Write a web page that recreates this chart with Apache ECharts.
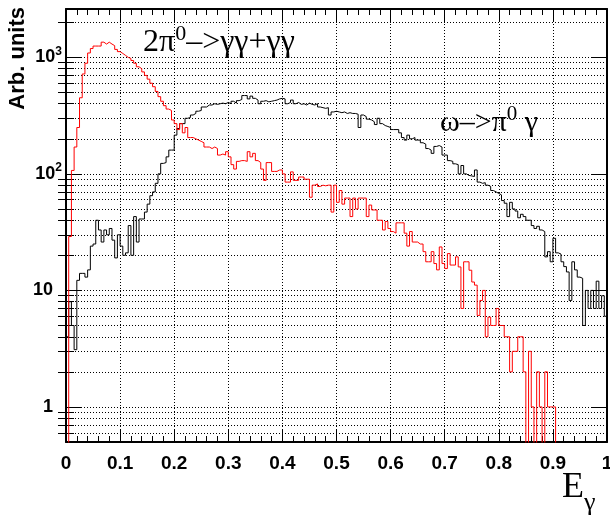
<!DOCTYPE html>
<html><head><meta charset="utf-8">
<script src="https://cdn.jsdelivr.net/npm/echarts@6/dist/echarts.min.js"></script>
<style>html,body{margin:0;padding:0;background:#fff}#c{width:610px;height:521px}</style>
</head><body><div id="c"></div>
<script>
// ---- data ----
const xRange = [0, 1];
const yRange = [0.5, 2600];
const xTickLabels = ['0','0.1','0.2','0.3','0.4','0.5','0.6','0.7','0.8','0.9','1'];
const yMajorTicks = [1, 10, 100, 1000];
const yMajorLabels = [['1',''], ['10',''], ['10','2'], ['10','3']];
const yMinorTicks = [0.6,0.7,0.8,0.9, 2,3,4,5,6,7,8,9, 20,30,40,50,60,70,80,90, 200,300,400,500,600,700,800,900, 2000];

// omega -> pi0 gamma (black), 200 bins over [0,1]
const omegaCounts = [
 4,8,5,3.1,12.2,14,14,13,15,24,
 25,40,33,26,33,30,34,27,19,30,
 24,20,21,36,20,43,26,41,41,47,
 55,65,70,83,100,123,125,140,160,160,
 215,245,270,270,300,305,320,330,345,350,
 375,375,390,390,400,395,400,405,400,410,
 400,420,405,425,435,470,470,440,465,445,
 430,400,420,425,415,420,425,430,440,445,
 440,400,410,430,400,410,395,400,390,405,
 395,390,400,375,370,365,370,320,340,345,
 340,335,340,330,335,330,330,325,250,320,
 310,295,290,280,265,300,270,260,255,250,
 240,240,240,225,205,195,215,200,205,195,
 195,185,180,165,160,150,172,175,170,145,
 145,130,128,122,120,100,118,100,97,96,
 95,108,85,83,84,80,78,72,70,68,
 66,59,56,43,57,50,48,42,45,43,
 40,40,36,34,35.5,33,32,19.4,21.5,17.6,
 28,21,20.5,17.6,16,14.4,8.2,17.6,15,13,
 12.7,5,10,7,10,7,12,7,9,6
];

// 2pi0 -> gg+gg (red), 200 bins over [0,1]
const pi0Counts = [
 0,29,107,170,250,450,720,890,1090,1190,
 1250,1250,1250,1350,1300,1350,1300,1260,1170,1120,
 1080,1040,1000,980,940,890,830,800,750,700,
 650,600,560,510,460,420,385,360,350,290,
 270,240,270,225,250,205,205,200,195,190,
 185,170,170,165,170,165,145,148,145,155,
 140,120,110,128,130,130,128,155,140,150,
 130,125,110,88,125,125,105,105,108,108,
 100,85,85,104,88,88,94,94,90,90,
 63,80,82,78,80,79,80,80,47,80,
 57,72,55,62,62,43,62,50,62,62,
 62,43,54,49,49,40,40,33,39,34,
 32,31,38,38,38,31,24,32,26,26,
 25,25,21.5,17.6,17.6,21.5,17,15,23.6,17,
 15.4,20.7,16.5,16.5,19.4,15.9,7,17.6,17.6,14.9,
 11.8,11.1,6.1,8.2,10,4,5.9,5,5,7,
 5,5,4,4,2,3,3,4,4,2,
 0,3,1,0,2,1,0,2,1,1,
 1,0,0,0,0,0,0,0,0,0,
 0,0,0,0,0,0,0,0,0,0
];

// ---- chart ----
const SANS = '"Liberation Sans", Arial, Helvetica, sans-serif';
const SERIF = '"Liberation Serif", "Times New Roman", Times, serif';
const EMPTY_BIN = 0.05; // empty bins drawn below the axis floor (clipped)

function histSteps(counts) {
  const n = counts.length;
  const w = (xRange[1] - xRange[0]) / n;
  const pts = counts.map((v, i) => [xRange[0] + i * w, v > 0 ? v : EMPTY_BIN]);
  pts.push([xRange[1], pts[n - 1][1]]);
  return pts;
}

const dotted = { type: [1, 2], color: '#000', width: 1 };
const axisLineStyle = { show: true, onZero: false, lineStyle: { color: '#000', width: 2 } };

function xAxisCfg(pos, withLabels) {
  return {
    type: 'value', min: xRange[0], max: xRange[1], interval: 0.1, position: pos,
    axisLine: axisLineStyle,
    axisTick: { show: true, inside: true, length: 12, lineStyle: { color: '#000', width: 1 } },
    minorTick: { show: true, splitNumber: 5, length: 6, lineStyle: { color: '#000', width: 1 } },
    splitLine: { show: withLabels, lineStyle: dotted },
    axisLabel: withLabels ? {
      show: true, margin: 12, color: '#000', fontFamily: SANS, fontSize: 19, fontWeight: 'bold',
      showMinLabel: true, showMaxLabel: true,
      formatter: v => xTickLabels[Math.round(v * 10)]
    } : { show: false }
  };
}

function yAxisCfg(pos, ticks, len, line, split, labels) {
  return {
    type: 'log', logBase: 10, min: yRange[0], max: yRange[1], position: pos,
    axisLine: line ? axisLineStyle : { show: false },
    axisTick: { show: true, inside: true, length: len, customValues: ticks, lineStyle: { color: '#000', width: 1 } },
    splitLine: { show: split, lineStyle: dotted },
    axisLabel: labels ? {
      show: true, customValues: ticks, margin: 4, color: '#000',
      formatter: v => {
        const k = yMajorTicks.indexOf(Math.round(v));
        const L = yMajorLabels[k];
        return L[1] ? '{b|' + L[0] + '}{s|' + L[1] + '}' : '{b|' + L[0] + '}{p|}';
      },
      rich: {
        b: { fontFamily: SANS, fontSize: 18, fontWeight: 'bold', color: '#000' },
        s: { fontFamily: SANS, fontSize: 12, fontWeight: 'bold', color: '#000', padding: [0, 0, 12, 0] },
        p: { width: 9 }
      }
    } : { show: false }
  };
}

const chart = echarts.init(document.getElementById('c'), null, { renderer: 'canvas' });
chart.setOption({
  animation: false,
  backgroundColor: '#fff',
  grid: { left: 66, right: 3, top: 9, bottom: 79, outerBoundsMode: 'none', containLabel: false },
  xAxis: [xAxisCfg('bottom', true), xAxisCfg('top', false)],
  yAxis: [
    yAxisCfg('left', yMajorTicks, 16, true, true, true),
    yAxisCfg('left', yMinorTicks, 8, false, true, false),
    yAxisCfg('right', yMajorTicks, 16, true, false, false),
    yAxisCfg('right', yMinorTicks, 8, false, false, false)
  ],
  series: [
    { name: 'omega', type: 'line', step: 'end', xAxisIndex: 0, yAxisIndex: 0, data: histSteps(omegaCounts),
      showSymbol: false, symbol: 'none', clip: true, lineStyle: { color: '#000', width: 1 }, z: 3 },
    { name: 'pi0', type: 'line', step: 'end', xAxisIndex: 0, yAxisIndex: 0, data: histSteps(pi0Counts),
      showSymbol: false, symbol: 'none', clip: true, lineStyle: { color: '#ff0000', width: 1 }, z: 4 }
  ],
  graphic: [
    { type: 'text', x: 17.5, y: 7, rotation: Math.PI / 2,
      style: { text: 'Arb. units', font: 'bold 22px ' + SANS, fill: '#000', align: 'right', verticalAlign: 'middle' } },
    { type: 'text', x: 143, y: 43,
      style: { text: '{n|2π}{s|0}{n|–>γγ+γγ}', fill: '#000', align: 'left', verticalAlign: 'middle',
        rich: { n: { fontFamily: SERIF, fontSize: 32, fill: '#000' },
                s: { fontFamily: SERIF, fontSize: 22, fill: '#000', padding: [0, 0, 18, 0] } } } },
    { type: 'text', x: 440, y: 123,
      style: { text: '{n|ω–>π}{s|0}{n| γ}', fill: '#000', align: 'left', verticalAlign: 'middle',
        rich: { n: { fontFamily: SERIF, fontSize: 30, fill: '#000' },
                s: { fontFamily: SERIF, fontSize: 21, fill: '#000', padding: [0, 0, 18, 0] } } } },
    { type: 'text', x: 562, y: 488,
      style: { text: '{e|E}{g|γ}', fill: '#000', align: 'left', verticalAlign: 'middle',
        rich: { e: { fontFamily: SERIF, fontSize: 36, fill: '#000' },
                g: { fontFamily: SERIF, fontSize: 26, fill: '#000', padding: [30, 0, 0, 0] } } } }
  ]
});
</script>
</body></html>
